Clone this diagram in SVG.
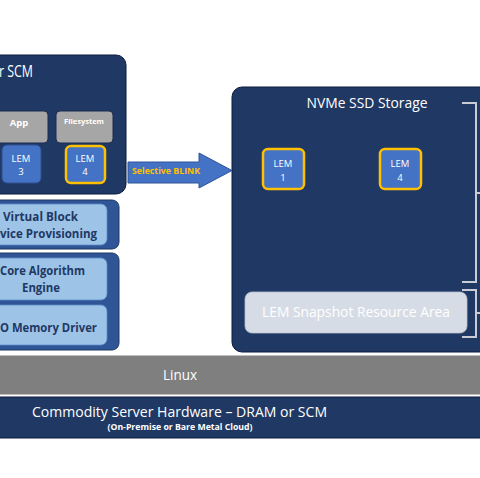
<svg xmlns="http://www.w3.org/2000/svg" width="480" height="478" viewBox="0 0 480 478">
<style>
.navy{fill:#203864;stroke:#0d1b3e;stroke-width:1}
.gray{fill:#a6a6a6;stroke:#1a2a50;stroke-width:1}
.lem{fill:#4472c4;stroke:#2f4f8f;stroke-width:1}
.sel{fill:#4472c4;stroke:#ffc000;stroke-width:2.5}
.outer{fill:#2f5597;stroke:#1f3864;stroke-width:1}
.inner{fill:#9dc3e6;stroke:#5b8ac8;stroke-width:0.8}
.t{font-family:"Open Sans","Liberation Sans",Arial,sans-serif}
.w{fill:#ffffff}
.d{fill:#1f3864;font-weight:bold;font-size:13px}
.br{fill:none;stroke:#c9ccd4;stroke-width:2}
</style>
<rect x="0" y="0" width="480" height="478" fill="#ffffff"/>

<g id="scm-panel">
<rect class="navy" x="-20" y="55" width="146" height="139" rx="10"/>
<text class="t w" x="-1" y="77" font-size="16" textLength="34" lengthAdjust="spacingAndGlyphs">r SCM</text>
</g>
<g id="app">
<rect class="gray" x="-10" y="111" width="58" height="32" rx="4"/>
<text class="t w" x="19" y="126" font-size="9.5" font-weight="bold" text-anchor="middle">App</text>
</g>
<g id="filesystem">
<rect class="gray" x="56" y="111" width="57" height="32" rx="4"/>
<text class="t w" x="84" y="124" font-size="7" font-weight="bold" text-anchor="middle" textLength="40" lengthAdjust="spacingAndGlyphs">Filesystem</text>
</g>
<g id="lem3">
<rect class="lem" x="2" y="145" width="39" height="38" rx="5"/>
<text class="t w" x="21" y="162" font-size="9.5" text-anchor="middle">LEM</text>
<text class="t w" x="21" y="175" font-size="9.5" text-anchor="middle">3</text>
</g>
<g id="lem4-left">
<rect class="sel" x="66" y="146" width="39" height="37" rx="5"/>
<text class="t w" x="85" y="162" font-size="9.5" text-anchor="middle">LEM</text>
<text class="t w" x="85" y="175" font-size="9.5" text-anchor="middle">4</text>
</g>

<g id="virtual-block">
<rect class="outer" x="-20" y="200" width="139" height="49" rx="7"/>
<rect class="inner" x="-20" y="204" width="127" height="41" rx="6"/>
<text class="t d" x="3" y="221" textLength="75" lengthAdjust="spacingAndGlyphs">Virtual Block</text>
<text class="t d" x="0" y="238" textLength="97" lengthAdjust="spacingAndGlyphs">vice Provisioning</text>
</g>
<g id="core-stack">
<rect class="outer" x="-20" y="253" width="139" height="97" rx="7"/>
</g>
<g id="core-algorithm">
<rect class="inner" x="-20" y="258" width="127" height="42" rx="6"/>
<text class="t d" x="0" y="275" textLength="85" lengthAdjust="spacingAndGlyphs">Core Algorithm</text>
<text class="t d" x="41" y="292" text-anchor="middle" textLength="38" lengthAdjust="spacingAndGlyphs">Engine</text>
</g>
<g id="memory-driver">
<rect class="inner" x="-20" y="305" width="127" height="40" rx="6"/>
<text class="t d" x="0" y="332" textLength="97" lengthAdjust="spacingAndGlyphs">O Memory Driver</text>
</g>

<g id="nvme">
<rect class="navy" x="232" y="87" width="270" height="265" rx="10"/>
<text class="t w" x="367" y="108" font-size="15" text-anchor="middle" textLength="121" lengthAdjust="spacingAndGlyphs">NVMe SSD Storage</text>
</g>
<g id="lem1">
<rect class="sel" x="263" y="149" width="41" height="40" rx="5"/>
<text class="t w" x="283" y="167" font-size="9.5" text-anchor="middle">LEM</text>
<text class="t w" x="283" y="181" font-size="9.5" text-anchor="middle">1</text>
</g>
<g id="lem4-right">
<rect class="sel" x="380" y="149" width="41" height="40" rx="5"/>
<text class="t w" x="400" y="167" font-size="9.5" text-anchor="middle">LEM</text>
<text class="t w" x="400" y="181" font-size="9.5" text-anchor="middle">4</text>
</g>
<g id="snapshot">
<rect x="245" y="292" width="222" height="41" rx="7" fill="#d6dce5" stroke="#b8c2d2" stroke-width="0.8"/>
<text class="t w" x="356" y="317" font-size="15" text-anchor="middle" textLength="188" lengthAdjust="spacingAndGlyphs">LEM Snapshot Resource Area</text>
</g>

<g id="connectors">
<path d="M128,162 H199 V153 L232,170.5 L199,188 V183 H128 Z" fill="#4472c4" stroke="#2f5597" stroke-width="1"/>
<text class="t" x="132" y="174" font-size="9.5" font-weight="bold" fill="#ffc000" textLength="68" lengthAdjust="spacingAndGlyphs">Selective BLINK</text>
<path class="br" d="M462,103 H476 V282 H462 M476,193 H480"/>
<path class="br" d="M462,290 H476 V337 H462 M476,313 H480"/>
</g>

<g id="linux">
<rect x="-1" y="355" width="482" height="40" fill="#7f7f7f" stroke="#ffffff" stroke-width="1"/>
<text class="t w" x="180" y="380" font-size="14" text-anchor="middle" textLength="34" lengthAdjust="spacingAndGlyphs">Linux</text>
</g>
<g id="hardware">
<rect x="-1" y="397" width="482" height="41" fill="#203864" stroke="#0d1b3e" stroke-width="1"/>
<text class="t w" x="32" y="417" font-size="15" textLength="295" lengthAdjust="spacingAndGlyphs">Commodity Server Hardware – DRAM or SCM</text>
<text class="t w" x="180" y="430" font-size="8" font-weight="bold" text-anchor="middle" textLength="145" lengthAdjust="spacingAndGlyphs">(On-Premise or Bare Metal Cloud)</text>
</g>
</svg>
